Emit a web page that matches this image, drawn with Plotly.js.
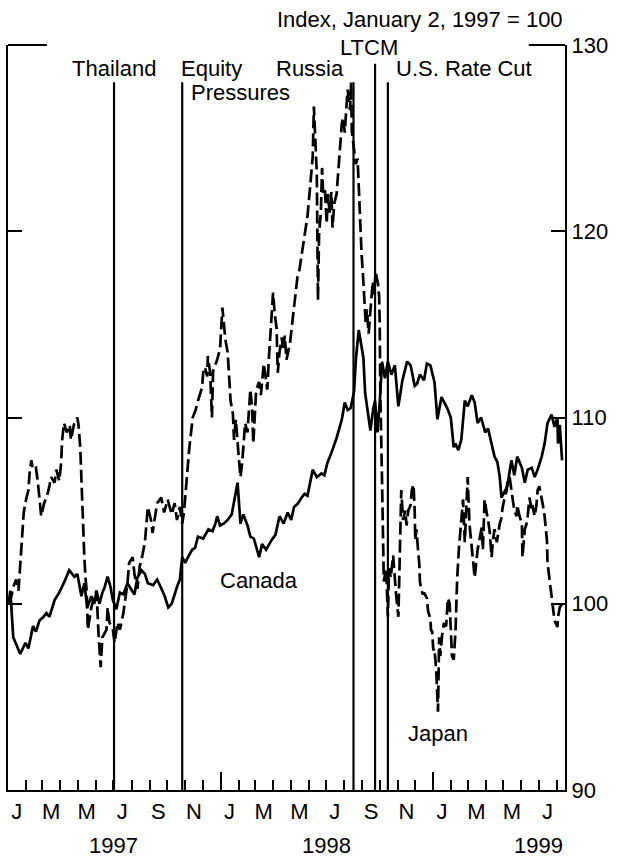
<!DOCTYPE html>
<html>
<head>
<meta charset="utf-8">
<script src="https://cdn.plot.ly/plotly-3.0.1.min.js"></script>
<style>
html,body{margin:0;padding:0;background:#fff;}
#chart{width:625px;height:861px;}
</style>
</head>
<body>
<div id="chart"></div>
<script>
// ---------------- DATA ----------------
const canadaDates = ['1997-01-02','1997-01-05','1997-01-10','1997-01-15','1997-01-22','1997-01-31','1997-02-05','1997-02-13','1997-02-18','1997-02-24','1997-03-03','1997-03-08','1997-03-13','1997-03-22','1997-03-30','1997-04-08','1997-04-16','1997-04-25','1997-04-30','1997-05-03','1997-05-07','1997-05-12','1997-05-17','1997-05-24','1997-05-29','1997-06-02','1997-06-07','1997-06-12','1997-06-16','1997-06-21','1997-06-26','1997-06-30','1997-07-06','1997-07-12','1997-07-18','1997-07-25','1997-07-31','1997-08-06','1997-08-11','1997-08-18','1997-08-24','1997-08-29','1997-09-07','1997-09-14','1997-09-20','1997-09-27','1997-10-03','1997-10-09','1997-10-18','1997-10-23','1997-10-27','1997-11-01','1997-11-06','1997-11-13','1997-11-18','1997-11-23','1997-12-02','1997-12-11','1997-12-18','1997-12-23','1997-12-26','1997-12-31','1998-01-06','1998-01-13','1998-01-20','1998-01-27','1998-01-30','1998-02-04','1998-02-09','1998-02-16','1998-02-21','1998-02-27','1998-03-05','1998-03-08','1998-03-13','1998-03-20','1998-03-29','1998-04-05','1998-04-12','1998-04-19','1998-04-26','1998-05-02','1998-05-07','1998-05-14','1998-05-20','1998-05-25','1998-05-30','1998-06-08','1998-06-15','1998-06-23','1998-06-28','1998-07-03','1998-07-10','1998-07-19','1998-07-28','1998-08-02','1998-08-07','1998-08-12','1998-08-18','1998-08-21','1998-08-26','1998-09-03','1998-09-06','1998-09-11','1998-09-15','1998-09-20','1998-09-23','1998-09-27','1998-10-01','1998-10-05','1998-10-10','1998-10-15','1998-10-21','1998-10-27','1998-11-02','1998-11-09','1998-11-17','1998-11-23','1998-11-30','1998-12-04','1998-12-09','1998-12-16','1998-12-21','1998-12-27','1999-01-03','1999-01-08','1999-01-15','1999-01-20','1999-01-25','1999-01-31','1999-02-05','1999-02-08','1999-02-13','1999-02-18','1999-02-21','1999-02-24','1999-03-01','1999-03-08','1999-03-13','1999-03-18','1999-03-24','1999-03-31','1999-04-05','1999-04-11','1999-04-16','1999-04-21','1999-04-25','1999-04-28','1999-05-03','1999-05-08','1999-05-15','1999-05-20','1999-05-25','1999-06-02','1999-06-07','1999-06-12','1999-06-19','1999-06-24','1999-06-29','1999-07-06','1999-07-11','1999-07-16','1999-07-23','1999-07-28','1999-08-02','1999-08-03','1999-08-06','1999-08-10'];
const canadaValues = [100.0,100.7,98.2,97.8,97.3,97.9,97.6,98.8,98.5,99.1,99.3,99.5,99.3,100.2,100.6,101.2,101.8,101.45,101.6,101.1,100.4,101.1,99.8,100.4,100.0,100.7,100.0,100.6,100.9,101.45,100.9,100.2,99.7,100.6,100.5,101.1,100.8,100.5,101.4,101.8,101.6,101.1,101.0,101.3,100.9,100.4,99.8,100.0,100.9,101.3,102.5,102.2,102.5,102.9,103.0,103.6,103.5,104.0,103.9,104.3,104.7,104.2,104.3,104.5,104.8,106.0,106.5,104.3,104.8,104.2,103.6,103.5,102.9,102.5,103.2,102.9,103.4,103.7,104.7,104.3,104.9,104.5,105.2,105.4,105.7,105.9,105.8,107.2,106.8,107.0,106.9,107.55,108.1,108.9,109.9,110.8,110.4,110.5,111.4,113.1,114.7,113.2,111.3,110.1,109.3,110.5,110.9,109.2,110.8,113.0,112.1,113.0,112.3,112.8,110.6,112.0,113.0,112.8,111.7,111.8,112.3,112.0,112.9,112.8,111.9,109.9,111.1,110.8,110.5,110.0,108.4,108.6,108.25,108.8,109.7,110.9,110.6,111.2,110.8,109.7,110.0,109.2,109.4,108.6,107.9,107.6,106.8,105.7,106.0,106.3,107.7,106.9,107.9,107.3,106.5,107.2,107.3,106.8,107.2,107.9,108.6,109.7,110.15,109.5,110.0,108.6,109.6,107.7];

const japanDates = ['1997-01-02','1997-01-06','1997-01-10','1997-01-15','1997-01-19','1997-01-24','1997-01-28','1997-02-01','1997-02-05','1997-02-07','1997-02-10','1997-02-13','1997-02-18','1997-02-21','1997-02-24','1997-02-27','1997-03-04','1997-03-09','1997-03-13','1997-03-16','1997-03-22','1997-03-25','1997-03-30','1997-04-02','1997-04-04','1997-04-07','1997-04-12','1997-04-17','1997-04-19','1997-04-24','1997-04-30','1997-05-02','1997-05-05','1997-05-09','1997-05-12','1997-05-14','1997-05-16','1997-05-18','1997-05-24','1997-05-29','1997-06-02','1997-06-05','1997-06-09','1997-06-12','1997-06-19','1997-06-21','1997-06-24','1997-06-30','1997-07-03','1997-07-08','1997-07-12','1997-07-18','1997-07-25','1997-07-28','1997-08-03','1997-08-06','1997-08-11','1997-08-15','1997-08-19','1997-08-24','1997-08-27','1997-08-29','1997-09-04','1997-09-06','1997-09-11','1997-09-14','1997-09-21','1997-09-26','1997-10-02','1997-10-09','1997-10-14','1997-10-18','1997-10-23','1997-10-27','1997-10-30','1997-11-04','1997-11-08','1997-11-13','1997-11-14','1997-11-19','1997-11-23','1997-11-30','1997-12-02','1997-12-05','1997-12-09','1997-12-10','1997-12-14','1997-12-17','1997-12-19','1997-12-26','1997-12-31','1998-01-04','1998-01-06','1998-01-09','1998-01-13','1998-01-15','1998-01-18','1998-01-22','1998-01-24','1998-01-27','1998-01-30','1998-02-01','1998-02-04','1998-02-07','1998-02-12','1998-02-16','1998-02-21','1998-02-24','1998-02-26','1998-02-28','1998-03-03','1998-03-08','1998-03-11','1998-03-16','1998-03-20','1998-03-22','1998-03-25','1998-03-29','1998-04-01','1998-04-04','1998-04-07','1998-04-09','1998-04-12','1998-04-16','1998-04-18','1998-04-21','1998-04-24','1998-04-30','1998-05-04','1998-05-07','1998-05-13','1998-05-16','1998-05-21','1998-05-28','1998-05-30','1998-06-03','1998-06-08','1998-06-10','1998-06-13','1998-06-15','1998-06-17','1998-06-19','1998-06-22','1998-06-24','1998-06-26','1998-06-29','1998-07-02','1998-07-04','1998-07-07','1998-07-10','1998-07-12','1998-07-15','1998-07-19','1998-07-21','1998-07-24','1998-07-28','1998-07-30','1998-08-02','1998-08-06','1998-08-07','1998-08-11','1998-08-13','1998-08-14','1998-08-16','1998-08-19','1998-08-21','1998-08-24','1998-08-26','1998-08-28','1998-08-31','1998-09-02','1998-09-04','1998-09-07','1998-09-09','1998-09-12','1998-09-16','1998-09-19','1998-09-21','1998-09-24','1998-09-28','1998-09-30','1998-10-01','1998-10-02','1998-10-05','1998-10-07','1998-10-08','1998-10-12','1998-10-15','1998-10-17','1998-10-20','1998-10-24','1998-10-26','1998-10-29','1998-11-02','1998-11-04','1998-11-07','1998-11-10','1998-11-14','1998-11-16','1998-11-19','1998-11-23','1998-11-25','1998-11-28','1998-11-30','1998-12-01','1998-12-03','1998-12-06','1998-12-08','1998-12-09','1998-12-11','1998-12-14','1998-12-16','1998-12-21','1998-12-23','1998-12-27','1998-12-28','1998-12-30','1999-01-01','1999-01-03','1999-01-06','1999-01-09','1999-01-11','1999-01-13','1999-01-16','1999-01-19','1999-01-23','1999-01-26','1999-01-29','1999-02-02','1999-02-05','1999-02-08','1999-02-11','1999-02-14','1999-02-17','1999-02-21','1999-02-24','1999-02-27','1999-03-01','1999-03-04','1999-03-08','1999-03-10','1999-03-13','1999-03-18','1999-03-22','1999-03-25','1999-03-27','1999-03-30','1999-04-03','1999-04-05','1999-04-08','1999-04-11','1999-04-13','1999-04-16','1999-04-20','1999-04-25','1999-04-28','1999-04-30','1999-05-03','1999-05-07','1999-05-08','1999-05-12','1999-05-15','1999-05-17','1999-05-20','1999-05-24','1999-05-25','1999-05-29','1999-06-02','1999-06-03','1999-06-07','1999-06-10','1999-06-12','1999-06-15','1999-06-19','1999-06-20','1999-06-24','1999-06-27','1999-06-29','1999-07-02','1999-07-06','1999-07-08','1999-07-11','1999-07-15','1999-07-16','1999-07-20','1999-07-23','1999-07-25','1999-07-28','1999-08-02','1999-08-03','1999-08-06','1999-08-10'];
const japanValues = [100.0,100.3,100.9,101.3,100.7,103.0,104.9,105.6,106.1,107.0,107.7,107.2,107.3,106.6,105.6,104.7,105.4,105.8,106.3,106.8,106.5,107.2,106.6,107.5,108.8,109.7,109.2,109.6,108.8,109.6,110.0,109.6,108.4,104.3,102.5,101.4,100.7,98.6,99.8,100.4,100.7,98.6,96.6,98.2,98.6,99.8,99.0,98.6,97.9,99.0,98.6,99.5,101.1,102.2,102.5,101.6,100.8,102.0,102.5,103.3,104.3,105.2,104.4,103.8,104.8,105.4,105.7,104.9,105.6,104.8,105.4,104.5,105.2,104.3,104.9,106.8,108.3,109.7,110.0,110.4,110.9,111.6,112.4,112.7,112.2,113.3,112.4,110.0,112.5,113.1,113.7,115.9,115.0,114.2,113.5,112.4,110.9,110.2,108.8,109.9,108.3,107.9,106.8,107.6,109.7,109.2,111.5,110.5,108.6,110.0,111.5,111.9,111.2,112.9,112.0,111.5,113.3,115.4,116.7,115.5,114.8,112.4,113.5,114.3,113.6,114.4,113.1,114.0,115.1,116.2,117.6,117.9,119.0,120.4,120.8,122.2,124.0,126.7,124.8,123.1,116.3,120.0,121.0,123.4,122.0,122.2,120.4,122.0,121.0,122.1,120.2,121.5,122.0,122.9,124.0,125.8,126.1,125.3,127.2,127.6,126.5,128.0,125.4,124.8,124.0,123.6,123.9,122.2,120.6,118.7,117.8,116.4,115.0,115.8,114.5,116.1,117.3,116.6,117.8,117.2,116.5,115.0,111.3,106.6,103.1,101.2,101.9,99.3,101.9,101.4,102.6,101.5,100.5,99.3,101.9,106.1,104.5,105.0,104.2,105.0,105.3,106.1,106.4,105.0,103.4,104.0,102.8,102.1,101.2,100.8,100.5,100.6,100.3,99.6,99.2,98.6,98.5,97.5,97.6,96.4,94.2,98.2,97.2,98.3,98.9,98.8,100.3,100.0,97.2,97.0,98.5,101.4,103.0,104.3,105.6,103.3,106.1,106.8,104.3,103.0,102.2,101.4,102.9,103.5,104.1,102.9,105.6,104.8,104.5,103.8,102.5,103.3,104.0,103.3,104.3,104.6,105.2,105.6,106.1,106.5,106.8,106.1,105.6,105.0,104.7,105.3,104.7,104.3,102.5,104.0,104.3,104.7,105.7,105.0,105.3,104.7,105.3,106.1,106.3,105.7,105.3,104.7,103.4,102.2,101.1,100.2,99.7,99.1,98.75,99.3,99.8,100.0];

const eventDates  = ['1997-07-02','1997-10-27','1998-08-17','1998-09-23','1998-10-15'];
const eventLabels = ['Thailand','Equity','Russia','LTCM','U.S. Rate Cut'];

const monthTickDates = ['1997-01-16','1997-03-16','1997-05-16','1997-07-16','1997-09-16','1997-11-16','1998-01-16','1998-03-16','1998-05-16','1998-07-16','1998-09-16','1998-11-16','1999-01-16','1999-03-16','1999-05-16','1999-07-16'];
const monthTickText  = ['J','M','M','J','S','N','J','M','M','J','S','N','J','M','M','J'];
const yearLabelDates = ['1997-07-01','1998-07-01','1999-07-01'];
const yearLabelText  = ['1997','1998','1999'];
const yTickValues = [90,100,110,120,130];

const seriesNames = ['Canada','Japan'];
const labelPoints = [['1998-03-08',101.27],['1999-01-09',93.06]];
const unitsNote = 'Index, January 2, 1997 = 100';

// ---------------- STYLE ----------------
const FONT = 'Liberation Sans, Arial, Helvetica, sans-serif';
const FS = 22;
const xRange = ['1997-01-01','1999-08-15'];

const traces = [
  {x: canadaDates, y: canadaValues, type:'scatter', mode:'lines', name: seriesNames[0],
   line:{color:'#000', width:2.7, shape:'linear'}, hoverinfo:'skip'},
  {x: japanDates, y: japanValues, type:'scatter', mode:'lines', name: seriesNames[1], xaxis:'x2',
   line:{color:'#000', width:2.7, dash:'13px,5px'}, hoverinfo:'skip'}
];

const lineTops = [0.95,0.95,0.95,0.975,0.95];
const shapes = eventDates.map((d,i)=>({type:'line', xref:'x', yref:'paper', x0:d, x1:d, y0:0, y1:lineTops[i],
  line:{color:'#000', width:2.2}}));
shapes.push({type:'line', xref:'paper', yref:'paper', x0:0, x1:0.07, y0:1, y1:1, line:{color:'#000', width:2.2}});
shapes.push({type:'line', xref:'paper', yref:'paper', x0:0.935, x1:1, y0:1, y1:1, line:{color:'#000', width:2.2}});

const ann = [];
const yMid = 0.968;
ann.push({x:eventDates[0], y:yMid, text:eventLabels[0], xanchor:'center'});
ann.push({x:eventDates[1], y:yMid, text:eventLabels[1], xanchor:'left', xshift:-3});
ann.push({x:eventDates[1], y:0.9356, text:'Pressures', xanchor:'left', xshift:7});
ann.push({x:eventDates[2], y:yMid, text:eventLabels[2], xanchor:'right', xshift:-8});
ann.push({x:eventDates[3], y:0.997, text:eventLabels[3], xanchor:'center', xshift:-6});
ann.push({x:eventDates[4], y:yMid, text:eventLabels[4], xanchor:'left', xshift:6});
ann.forEach(a=>{a.xref='x'; a.yref='paper'; a.yanchor='middle'; a.showarrow=false;
  a.font={family:FONT, size:FS, color:'#000'};});
yearLabelDates.forEach((d,i)=>ann.push({x:d, y:-0.074, xref:'x', yref:'paper', text:yearLabelText[i],
  showarrow:false, xanchor:'center', yanchor:'middle', font:{family:FONT, size:FS, color:'#000'}}));
labelPoints.forEach((p,i)=>ann.push({x:p[0], y:p[1], xref:'x', yref:'y', text:seriesNames[i],
  showarrow:false, xanchor:'center', yanchor:'middle', font:{family:FONT, size:FS, color:'#000'}}));
ann.push({x:1, y:1.0336, xref:'paper', yref:'paper', text:unitsNote, showarrow:false,
  xanchor:'right', yanchor:'middle', font:{family:FONT, size:FS, color:'#000'}});

const layout = {
  width:625, height:861,
  margin:{l:8, r:60, t:45, b:71, pad:0},
  paper_bgcolor:'#fff', plot_bgcolor:'#fff',
  showlegend:false,
  font:{family:FONT, size:FS, color:'#000'},
  xaxis:{type:'date', range:xRange, showgrid:false, zeroline:false,
    showline:true, linecolor:'#000', linewidth:2.2,
    ticks:'inside', ticklen:18, tickwidth:2, tickcolor:'#000',
    tick0:'1997-01-01', dtick:'M12', showticklabels:false,
    minor:{ticks:'inside', ticklen:10, tickwidth:2, tickcolor:'#000', tick0:'1997-01-01', dtick:'M1', showgrid:false}},
  xaxis2:{type:'date', range:xRange, overlaying:'x', anchor:'y', side:'bottom',
    showgrid:false, zeroline:false, showline:false, ticks:'',
    tickmode:'array', tickvals:monthTickDates, ticktext:monthTickText,
    tickfont:{family:FONT, size:FS, color:'#000'}, ticklabelstandoff:6},
  yaxis:{range:[90,130], side:'right', showgrid:false, zeroline:false,
    showline:true, linecolor:'#000', linewidth:2.2, mirror:'ticks',
    ticks:'inside', ticklen:14, tickwidth:2, tickcolor:'#000',
    tickmode:'array', tickvals:yTickValues,
    tickfont:{family:FONT, size:FS, color:'#000'}},
  shapes: shapes,
  annotations: ann
};

Plotly.newPlot('chart', traces, layout, {displayModeBar:false, staticPlot:true});
</script>
</body>
</html>
